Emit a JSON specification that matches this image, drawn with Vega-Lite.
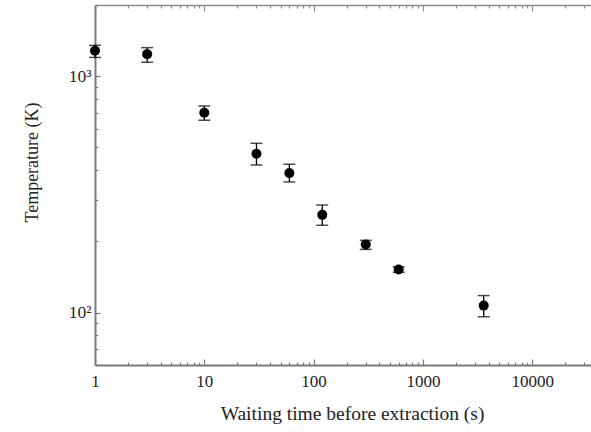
{
  "$schema": "https://vega.github.io/schema/vega-lite/v6.json",
  "width": 496,
  "height": 360,
  "autosize": {"type": "none"},
  "padding": {"left": 95, "top": 5, "right": 0, "bottom": 67},
  "background": "white",
  "config": {"view": {"stroke": null}},
  "data": {
    "values": [
      {"t": 1, "T": 1280, "lo": 1200, "hi": 1350},
      {"t": 3, "T": 1239, "lo": 1145, "hi": 1320},
      {"t": 10, "T": 700, "lo": 651, "hi": 748},
      {"t": 30, "T": 470, "lo": 421, "hi": 520},
      {"t": 60, "T": 389, "lo": 357, "hi": 424},
      {"t": 120, "T": 259, "lo": 234, "hi": 285},
      {"t": 300, "T": 194, "lo": 185, "hi": 202},
      {"t": 600, "T": 152, "lo": 148, "hi": 156},
      {"t": 3600, "T": 107, "lo": 96, "hi": 118}
    ]
  },
  "resolve": {"axis": {"x": "independent", "y": "independent"}},
  "layer": [
    {
      "mark": {"type": "rule", "color": "black", "strokeWidth": 1.3},
      "encoding": {
        "x": {
          "field": "t", "type": "quantitative",
          "scale": {"type": "log", "domain": [1, 34500], "nice": false},
          "axis": {
            "orient": "bottom",
            "values": [1,2,3,4,5,6,7,8,9,10,20,30,40,50,60,70,80,90,100,200,300,400,500,600,700,800,900,1000,2000,3000,4000,5000,6000,7000,8000,9000,10000,20000,30000],
            "labelExpr": "abs(log(datum.value)/LN10 - round(log(datum.value)/LN10)) < 1e-6 ? datum.label : ''",
            "format": "d",
            "grid": false,
            "domainColor": "#7a7a7a", "domainWidth": 2,
            "tickColor": "#7a7a7a", "tickWidth": 1.2,
            "tickSize": {"condition": {"test": "abs(log(datum.value)/LN10 - round(log(datum.value)/LN10)) < 1e-6", "value": -6}, "value": -3},
            "labelFont": "Liberation Serif", "labelFontSize": 17, "labelColor": "#222222",
            "labelOverlap": false, "labelFlush": false, "labelBound": false,
            "labelPadding": 14,
            "title": "Waiting time before extraction (s)",
            "titleFont": "Liberation Serif", "titleFontSize": 19.5, "titleFontWeight": "normal", "titleColor": "#222222",
            "titlePadding": 12,
            "titleX": 257
          }
        },
        "y": {
          "field": "lo", "type": "quantitative",
          "scale": {"type": "log", "domain": [60, 2000], "nice": false},
          "axis": {
            "orient": "left",
            "values": [60,70,80,90,100,200,300,400,500,600,700,800,900,1000,2000],
            "labelExpr": "datum.value == 1000 ? '10³' : (datum.value == 100 ? '10²' : '')",
            "grid": false,
            "domainColor": "#7a7a7a", "domainWidth": 2,
            "tickColor": "#7a7a7a", "tickWidth": 1.2,
            "tickSize": {"condition": {"test": "datum.value == 100 || datum.value == 1000", "value": -5}, "value": -3},
            "labelFont": "Liberation Serif", "labelFontSize": 17.5, "labelColor": "#222222",
            "labelOverlap": false, "labelFlush": false, "labelBound": false,
            "labelPadding": 9,
            "title": "Temperature (K)",
            "titleFont": "Liberation Serif", "titleFontSize": 18, "titleFontWeight": "normal", "titleColor": "#222222",
            "titleX": -54, "titleY": 157
          }
        },
        "y2": {"field": "hi"}
      }
    },
    {
      "mark": {"type": "tick", "orient": "horizontal", "color": "black", "size": 12, "thickness": 1.5},
      "encoding": {
        "x": {
          "field": "t", "type": "quantitative",
          "axis": {
            "orient": "top",
            "values": [1,2,3,4,5,6,7,8,9,10,20,30,40,50,60,70,80,90,100,200,300,400,500,600,700,800,900,1000,2000,3000,4000,5000,6000,7000,8000,9000,10000,20000,30000],
            "labels": false,
            "grid": false,
            "title": null,
            "domainColor": "#8a8a8a", "domainWidth": 1.5,
            "tickColor": "#8a8a8a", "tickWidth": 1.2,
            "tickSize": {"condition": {"test": "abs(log(datum.value)/LN10 - round(log(datum.value)/LN10)) < 1e-6", "value": -6}, "value": -3}
          }
        },
        "y": {"field": "lo", "type": "quantitative", "axis": null}
      }
    },
    {
      "mark": {"type": "tick", "orient": "horizontal", "color": "black", "size": 12, "thickness": 1.5},
      "encoding": {
        "x": {"field": "t", "type": "quantitative", "axis": null},
        "y": {"field": "hi", "type": "quantitative", "axis": null}
      }
    },
    {
      "mark": {"type": "point", "filled": true, "shape": "circle", "color": "black", "opacity": 1, "size": 100},
      "encoding": {
        "x": {"field": "t", "type": "quantitative", "axis": null},
        "y": {"field": "T", "type": "quantitative", "axis": null}
      }
    }
  ]
}
